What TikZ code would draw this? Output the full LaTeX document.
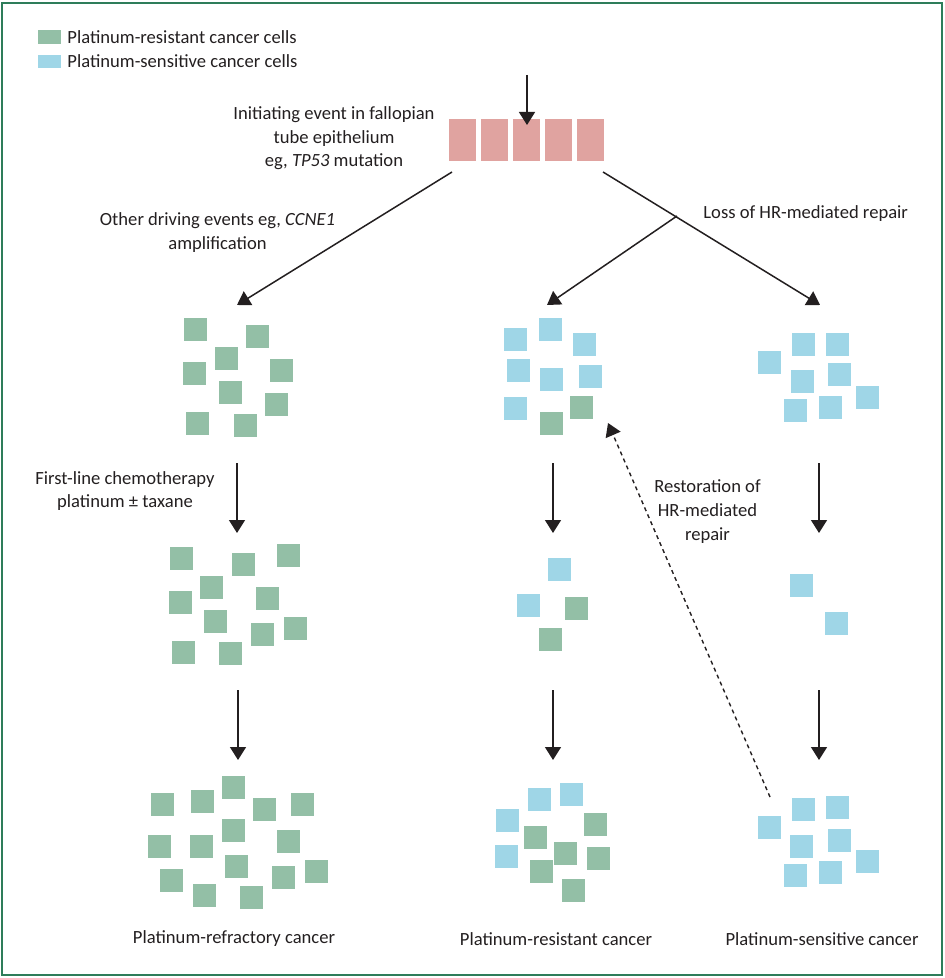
\documentclass[tikz,border=0pt]{standalone}
\usepackage{fontspec}
\setmainfont{Carlito}
\usetikzlibrary{arrows.meta}
\definecolor{resgreen}{RGB}{147,191,166}
\definecolor{sensblue}{RGB}{159,214,231}
\definecolor{pinkcell}{RGB}{224,163,160}
\definecolor{framegreen}{RGB}{46,125,90}
\definecolor{ink}{RGB}{35,31,32}
\begin{document}
\begin{tikzpicture}[x=0.5pt,y=-0.5pt,
  cellg/.style={rectangle, fill=resgreen, minimum size=11.5pt, inner sep=0pt},
  cellb/.style={rectangle, fill=sensblue, minimum size=11.5pt, inner sep=0pt},
  cellp/.style={rectangle, fill=pinkcell, minimum width=13.5pt, minimum height=21pt, inner sep=0pt},
  legcell/.style={rectangle, minimum width=11.5pt, minimum height=6.8pt, inner sep=0pt},
  arr/.style={draw=ink, line width=0.75pt, -{Triangle[width=8pt,length=6.5pt]}},
  dasharr/.style={draw=ink, line width=0.7pt, dash pattern=on 2pt off 1.8pt, -{Triangle[width=8pt,length=6.5pt]}},
  lbl/.style={text=ink, font=\fontsize{9.3}{11.8}\selectfont, align=center, inner sep=0pt}]
\useasboundingbox (0,0) rectangle (945,978);
\draw[framegreen, line width=0.75pt] (2,3) rectangle (942,975);

% legend
\node[legcell, fill=resgreen] (leg1) at (49.5,37) {};
\node[legcell, fill=sensblue] (leg2) at (49.5,61.5) {};
\node[lbl, anchor=west] (legt1) at (67,37) {Platinum-resistant cancer cells};
\node[lbl, anchor=west] (legt2) at (67,61.5) {Platinum-sensitive cancer cells};

% pink epithelium
\foreach \x [count=\i] in {462,494,526,558,590}
  \node[cellp] (P\i) at (\x,140) {};

% labels
\node[lbl] (init) at (334,138.5) {Initiating event in fallopian\\tube epithelium\\eg, \textit{TP53} mutation};
\node[lbl] (other) at (217.5,232.5) {Other driving events eg, \textit{CCNE1}\\amplification};
\node[lbl, anchor=west] (loss) at (703,214) {Loss of HR-mediated repair};
\node[lbl] (first) at (125,491) {First-line chemotherapy\\platinum ± taxane};
\node[lbl] (resto) at (707.5,511.5) {Restoration of\\HR-mediated\\repair};
\node[lbl] (refr) at (234,939) {Platinum-refractory cancer};
\node[lbl] (resi) at (556,939) {Platinum-resistant cancer};
\node[lbl] (sens) at (822,939) {Platinum-sensitive cancer};

% group 1: left top
\foreach \x/\y [count=\i] in {195.5/329.5, 257/336, 226.5/358.5, 194/373.5, 281.5/370, 230/392.5, 276/404, 197.5/423.5, 245/425}
  \node[cellg] (A\i) at (\x,\y) {};
% group 2: middle top
\foreach \s/\x/\y [count=\i] in {cellb/515/339.3, cellb/550/329.7, cellb/584.7/344, cellb/518/370, cellb/551.3/379.7, cellb/590.3/376.7, cellb/515.8/408.7, cellg/551.3/423.7, cellg/581.5/407.3}
  \node[\s] (B\i) at (\x,\y) {};
% group 3: right top
\foreach \x/\y [count=\i] in {769.5/362, 803.7/344, 837.7/344, 802/381.3, 839.3/374.7, 867.7/397.7, 795.3/410.7, 830.5/407.3}
  \node[cellb] (C\i) at (\x,\y) {};
% group 4: left middle
\foreach \x/\y [count=\i] in {181.7/558, 243.5/564.7, 288/555, 211.7/587.3, 180.2/602, 267.8/598.7, 215/621.3, 262/634.3, 295.2/628, 183.3/652, 230.3/653.7}
  \node[cellg] (D\i) at (\x,\y) {};
% group 5: middle middle
\foreach \s/\x/\y [count=\i] in {cellb/559.7/569.5, cellb/528.7/605.3, cellg/576.7/608.3, cellg/550.7/639.3}
  \node[\s] (E\i) at (\x,\y) {};
% group 6: right middle
\foreach \x/\y [count=\i] in {801.2/585.7, 836.8/623}
  \node[cellb] (F\i) at (\x,\y) {};
% group 7: left bottom
\foreach \x/\y [count=\i] in {233.7/787, 162.5/804.7, 202.8/801.3, 264.5/809.7, 302.7/804.7, 233/830.7, 159/846.7, 201.2/846.7, 288/841.7, 171.3/880.7, 236/866, 283.2/877.3, 316.5/871.8, 204.5/895.3, 251.5/897}
  \node[cellg] (G\i) at (\x,\y) {};
% group 8: middle bottom
\foreach \s/\x/\y [count=\i] in {cellb/539/799.7, cellb/571.3/794.7, cellb/507.7/820.7, cellg/595/824, cellg/535.8/837, cellb/506.8/856.3, cellg/565/853, cellg/598.2/858, cellg/541.5/871.5, cellg/573.8/890.3}
  \node[\s] (H\i) at (\x,\y) {};
% group 9: right bottom
\foreach \x/\y [count=\i] in {769.5/827.3, 803.5/809.3, 837.5/807.7, 801.8/846.7, 839.2/840.3, 867.7/861.3, 795.3/875.7, 830.2/872.3}
  \node[cellb] (I\i) at (\x,\y) {};

% connector end points
\coordinate (topS) at (527,75);
\coordinate (topE) at (527,125);
\coordinate (lS) at (452,172);
\coordinate (lE) at (237,305);
\coordinate (rS) at (603,172);
\coordinate (rE) at (820,305);
\coordinate (br) at (677,216);
\coordinate (mE) at (547,305);
\coordinate (a1S) at (237,463); \coordinate (a1E) at (237,533);
\coordinate (a2S) at (553,463); \coordinate (a2E) at (553,533);
\coordinate (a3S) at (819,463); \coordinate (a3E) at (819,533);
\coordinate (b1S) at (238,690); \coordinate (b1E) at (238,760);
\coordinate (b2S) at (553,690); \coordinate (b2E) at (553,760);
\coordinate (b3S) at (819,690); \coordinate (b3E) at (819,760);
\coordinate (dS) at (770,797);
\coordinate (dE) at (608,423);

\draw[arr] (topS) -- (topE);
\draw[arr] (lS) -- (lE);
\draw[arr] (rS) -- (rE);
\draw[arr] (br) -- (mE);
\draw[arr] (a1S) -- (a1E);
\draw[arr] (a2S) -- (a2E);
\draw[arr] (a3S) -- (a3E);
\draw[arr] (b1S) -- (b1E);
\draw[arr] (b2S) -- (b2E);
\draw[arr] (b3S) -- (b3E);
\draw[dasharr] (dS) -- (dE);
\end{tikzpicture}
\end{document}
